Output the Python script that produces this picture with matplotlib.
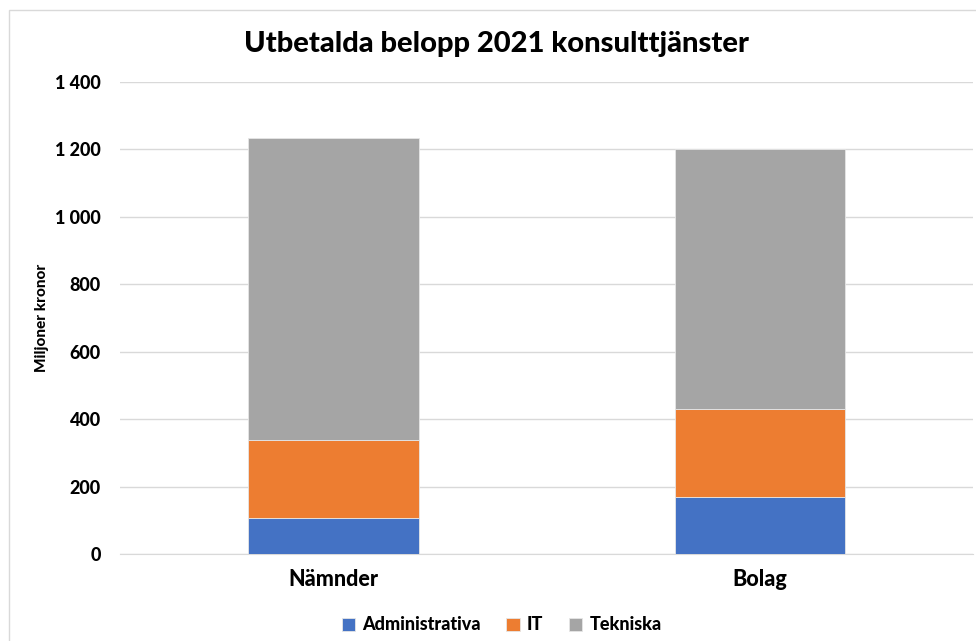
import matplotlib
matplotlib.use("Agg")
import matplotlib.pyplot as plt
from matplotlib.patches import Rectangle
from matplotlib.ticker import FuncFormatter

categories = ["Nämnder", "Bolag"]
series_names = ["Administrativa", "IT", "Tekniska"]
administrativa = [108, 169]
it = [229, 261]
tekniska = [897, 771]
colors = ["#4472C4", "#ED7D31", "#A5A5A5"]
yticks = [0, 200, 400, 600, 800, 1000, 1200, 1400]

plt.rcParams['font.family'] = ['Lato', 'DejaVu Sans']
W = 900

fig = plt.figure(figsize=(9.76, 6.41), dpi=100)
ax = fig.add_axes([0.123, 0.1357, 0.874, 0.7363])

x = list(range(len(categories)))
bottom = [0, 0]
for vals, name, c in zip([administrativa, it, tekniska], series_names, colors):
    ax.bar(x, vals, bottom=bottom, width=0.4, color=c, label=name,
           edgecolor="#e6e6e6", linewidth=0.6, zorder=3)
    bottom = [b + v for b, v in zip(bottom, vals)]

ax.set_xlim(-0.5, 1.5)
ax.set_ylim(0, 1400)
ax.set_yticks(yticks)
ax.yaxis.set_major_formatter(FuncFormatter(lambda v, p: f"{int(v):,}".replace(",", " ")))
ax.grid(axis="y", color="#d9d9d9", linewidth=1, zorder=0)
for s in ["top", "right", "left"]:
    ax.spines[s].set_visible(False)
ax.spines["bottom"].set_color("#d9d9d9")
ax.tick_params(axis="y", length=0, pad=14, labelsize=13)
ax.tick_params(axis="x", length=0, pad=11, labelsize=15.5)
for lbl in ax.get_yticklabels():
    lbl.set_fontweight(W)
ax.set_xticks(x)
ax.set_xticklabels(categories, fontweight=W)
ax.set_ylabel("Miljoner kronor", fontsize=11, fontweight=W)
ax.yaxis.set_label_coords(-0.083, 0.5)

fig.text(0.509, 0.932, "Utbetalda belopp 2021 konsulttjänster", ha="center", va="center",
         fontsize=21, fontweight=W)

leg = fig.legend(loc="center", bbox_to_anchor=(0.514, 0.025), ncol=3, frameon=False,
                 prop={"size": 13, "weight": W}, handlelength=0.75, handleheight=0.75,
                 columnspacing=1.4, handletextpad=0.4)

fig.patches.append(Rectangle((9 / 976, -0.05), 1.1, 1 - 10 / 641 + 0.05,
                             transform=fig.transFigure, fill=False, edgecolor="#d9d9d9",
                             linewidth=1))

fig.savefig("out.png", dpi=100)
